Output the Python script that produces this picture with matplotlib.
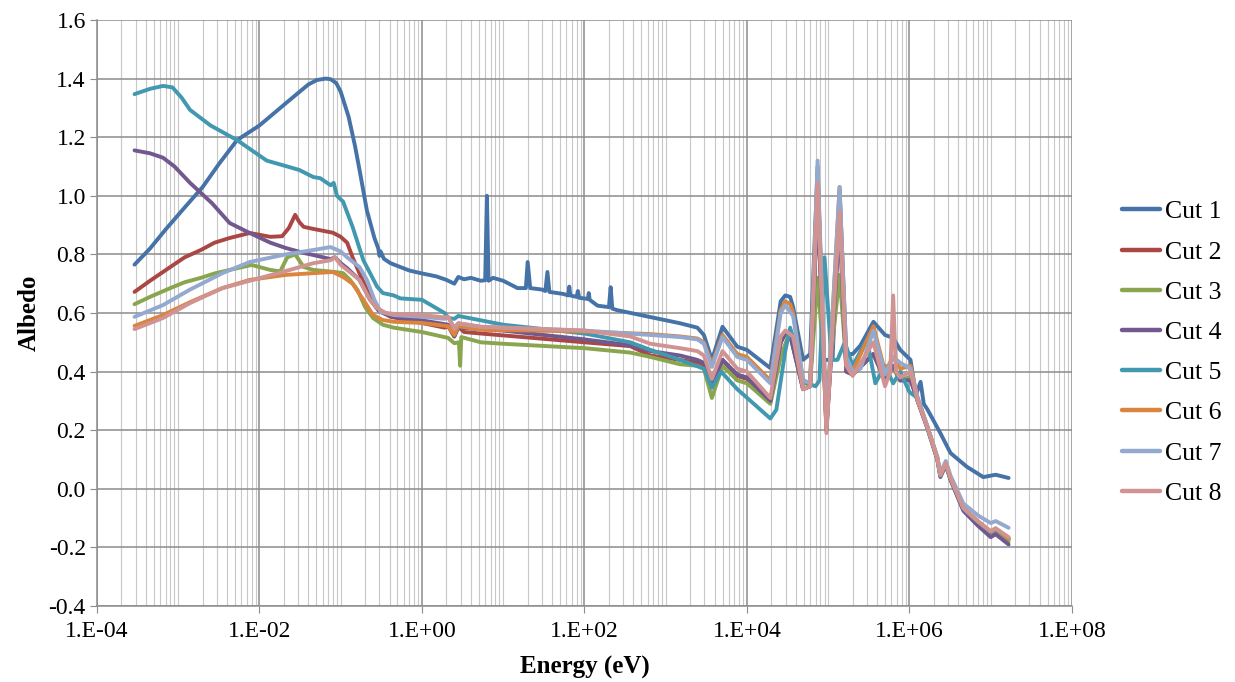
import math

import matplotlib
matplotlib.use('Agg')
import matplotlib.pyplot as plt
from matplotlib.ticker import LogLocator, FixedLocator, FuncFormatter, NullFormatter

plt.rcParams['font.family'] = ['Liberation Serif', 'DejaVu Serif']

# Albedo per cut, sampled against neutron energy (eV)
cut1_energy = [2.9e-4, 4.5e-4, 7e-4, 1.2e-3, 2e-3, 3.2e-3, 5.3e-3, 1e-2, 2.2e-2, 0.04, 0.051,
               0.065, 0.075, 0.088, 0.1, 0.125, 0.15, 0.17, 0.21, 0.26, 0.29, 0.3, 0.31,
               0.34, 0.41, 0.54, 0.7, 1.0, 1.5, 2.0, 2.5, 2.8, 3.3, 4.0, 5.3, 6.0, 6.3, 6.6,
               7.5, 10, 15, 19, 20, 21.5, 30, 33, 35, 37, 55, 63, 65, 67, 80, 83, 86, 110,
               113, 116, 145, 200, 210, 220, 250, 650, 1500, 2450, 2950, 3700, 5000, 7600,
               1e4, 1.94e4, 2.6e4, 2.96e4, 3.4e4, 3.7e4, 4.9e4, 6.0e4, 7.4e4, 8.8e4,
               1.13e5, 1.38e5, 1.67e5, 2.0e5, 2.5e5, 3.6e5, 5.0e5, 6.3e5, 7.7e5, 1.03e6,
               1.2e6, 1.37e6, 1.5e6, 1.67e6, 2.4e6, 3.2e6, 5.1e6, 8.1e6, 1.15e7, 1.66e7]
cut1_albedo = [0.765, 0.82, 0.885, 0.96, 1.03, 1.11, 1.19, 1.24, 1.32, 1.38, 1.395,
               1.40, 1.398, 1.385, 1.355, 1.27, 1.17, 1.09, 0.95, 0.856, 0.82, 0.795, 0.81,
               0.785, 0.77, 0.757, 0.745, 0.735, 0.725, 0.713, 0.70, 0.723, 0.715, 0.72,
               0.71, 0.712, 1.0, 0.71, 0.72, 0.71, 0.685, 0.685, 0.774, 0.685, 0.68, 0.675,
               0.74, 0.672, 0.665, 0.66, 0.69, 0.66, 0.655, 0.675, 0.652, 0.648, 0.668,
               0.645, 0.625, 0.62, 0.688, 0.615, 0.61, 0.586, 0.565, 0.55, 0.525, 0.44,
               0.553, 0.485, 0.474, 0.412, 0.64, 0.66, 0.655, 0.62, 0.44, 0.46, 1.10, 0.44,
               0.44, 1.02, 0.46, 0.46, 0.49, 0.57, 0.525, 0.515, 0.474, 0.44, 0.32, 0.365,
               0.29, 0.27, 0.19, 0.122, 0.075, 0.04, 0.048, 0.037]

cut2_energy = [2.9e-4, 4.5e-4, 8e-4, 1.2e-3, 1.9e-3, 2.8e-3, 4.3e-3, 7.6e-3, 0.0136,
               0.019, 0.023, 0.0275, 0.031, 0.035, 0.046, 0.08, 0.1, 0.12, 0.14, 0.17,
               0.23, 0.29, 0.41, 1.0, 1.9, 2.1, 2.5, 2.8, 3.3, 5.3, 100, 365, 650, 1500,
               2450, 2950, 3700, 5000, 7600, 1e4, 1.94e4, 2.6e4, 2.96e4, 3.4e4, 4.9e4,
               6.0e4, 7.4e4, 9.5e4, 1.38e5, 1.67e5, 2.0e5, 3.6e5, 5.0e5, 6.3e5, 7.7e5,
               1.03e6, 1.26e6, 1.67e6, 2.2e6, 2.4e6, 2.8e6, 3.2e6, 4.6e6, 6.9e6, 1.0e7,
               1.15e7, 1.66e7]
cut2_albedo = [0.672, 0.71, 0.757, 0.79, 0.815, 0.84, 0.856, 0.873, 0.86,
               0.862, 0.89, 0.935, 0.91, 0.894, 0.887, 0.874, 0.86, 0.84, 0.79, 0.736,
               0.655, 0.61, 0.587, 0.566, 0.55, 0.555, 0.52, 0.553, 0.535, 0.53, 0.50,
               0.487, 0.455, 0.44, 0.43, 0.42, 0.355, 0.44, 0.385, 0.375, 0.295, 0.50,
               0.53, 0.525, 0.34, 0.35, 1.0, 0.20, 0.92, 0.40, 0.39, 0.46, 0.37, 0.42,
               0.37, 0.38, 0.30, 0.21, 0.105, 0.045, 0.085, 0.035, -0.07, -0.115, -0.15,
               -0.14, -0.172]

cut3_energy = [2.9e-4, 4.5e-4, 8e-4, 1.2e-3, 1.9e-3, 2.8e-3, 4.3e-3, 8e-3, 0.0136,
               0.018, 0.022, 0.0275, 0.035, 0.046, 0.085, 0.107, 0.13, 0.16, 0.2, 0.25,
               0.33, 0.45, 1.0, 2.1, 2.5, 2.85, 2.95, 3.05, 5.3, 10, 100, 365, 650, 1500,
               2450, 2950, 3700, 5000, 7600, 1e4, 1.94e4, 2.6e4, 3.4e4, 3.7e4, 4.9e4,
               6.0e4, 7.4e4, 9.5e4, 1.38e5, 1.67e5, 2.0e5, 3.6e5, 5.0e5, 6.3e5, 7.7e5,
               1.03e6, 1.26e6, 1.67e6, 2.2e6, 2.4e6, 2.8e6, 3.2e6, 4.6e6, 6.9e6, 1.0e7,
               1.15e7, 1.66e7]
cut3_albedo = [0.63, 0.655, 0.685, 0.705, 0.72, 0.735, 0.747, 0.764, 0.747,
               0.742, 0.79, 0.80, 0.757, 0.747, 0.74, 0.736, 0.713, 0.68, 0.62, 0.583,
               0.56, 0.55, 0.535, 0.515, 0.497, 0.50, 0.42, 0.518, 0.50, 0.495, 0.48,
               0.465, 0.45, 0.425, 0.42, 0.41, 0.31, 0.42, 0.37, 0.36, 0.29, 0.45, 0.54,
               0.52, 0.36, 0.36, 0.72, 0.30, 0.73, 0.42, 0.39, 0.46, 0.38, 0.41, 0.37,
               0.38, 0.30, 0.205, 0.10, 0.045, 0.085, 0.035, -0.07, -0.115, -0.155,
               -0.145, -0.18]

cut4_energy = [2.9e-4, 4.5e-4, 6.5e-4, 9e-4, 1.4e-3, 1.9e-3, 2.6e-3, 4.3e-3, 7.6e-3,
               0.0136, 0.021, 0.035, 0.046, 0.075, 0.085, 0.1, 0.12, 0.17, 0.23, 0.29,
               0.33, 0.45, 1.0, 2.1, 2.5, 2.8, 5.3, 10, 100, 365, 650, 1500, 2450, 2950,
               3700, 5000, 7600, 1e4, 1.94e4, 2.6e4, 2.96e4, 3.4e4, 4.9e4, 6.0e4, 7.4e4,
               9.5e4, 1.38e5, 1.67e5, 2.0e5, 3.6e5, 5.0e5, 6.3e5, 7.7e5, 1.03e6, 1.26e6,
               1.67e6, 2.2e6, 2.4e6, 2.8e6, 3.2e6, 4.6e6, 6.9e6, 1.0e7, 1.15e7, 1.66e7]
cut4_albedo = [1.155, 1.145, 1.13, 1.10, 1.044, 1.01, 0.975, 0.907, 0.873,
               0.84, 0.822, 0.805, 0.798, 0.784, 0.79, 0.77, 0.753, 0.713, 0.645, 0.61,
               0.60, 0.587, 0.575, 0.56, 0.52, 0.55, 0.545, 0.54, 0.51, 0.49, 0.47, 0.455,
               0.44, 0.43, 0.36, 0.44, 0.39, 0.38, 0.30, 0.50, 0.53, 0.525, 0.34, 0.35,
               0.98, 0.20, 0.90, 0.40, 0.39, 0.46, 0.37, 0.42, 0.37, 0.37, 0.30, 0.205,
               0.10, 0.04, 0.08, 0.03, -0.075, -0.125, -0.165, -0.155, -0.19]

cut5_energy = [2.9e-4, 4.5e-4, 6.5e-4, 8.5e-4, 1.1e-3, 1.4e-3, 2.5e-3, 5.3e-3, 0.0123,
               0.022, 0.031, 0.046, 0.056, 0.075, 0.082, 0.09, 0.107, 0.14, 0.19, 0.23,
               0.28, 0.33, 0.45, 0.54, 1.0, 1.9, 2.1, 2.5, 2.8, 10, 100, 365, 650, 1500,
               2950, 3700, 4800, 7600, 1.94e4, 2.3e4, 2.96e4, 3.4e4, 3.8e4, 4.6e4, 5.5e4,
               7.0e4, 7.8e4, 9.0e4, 1.1e5, 1.3e5, 1.6e5, 2.0e5, 3.0e5, 3.8e5, 5.0e5,
               6.3e5, 7.7e5, 1.0e6, 1.26e6, 1.67e6, 2.2e6, 2.4e6, 2.8e6, 3.2e6, 4.6e6,
               6.9e6, 1.0e7, 1.15e7, 1.66e7]
cut5_albedo = [1.347, 1.365, 1.375, 1.37, 1.335, 1.293, 1.24, 1.19, 1.12,
               1.10, 1.088, 1.064, 1.06, 1.036, 1.044, 1.0, 0.98, 0.894, 0.78, 0.736,
               0.69, 0.668, 0.66, 0.65, 0.645, 0.60, 0.583, 0.58, 0.59, 0.56, 0.53, 0.50,
               0.474, 0.44, 0.41, 0.345, 0.40, 0.34, 0.24, 0.27, 0.47, 0.55, 0.50, 0.38,
               0.36, 0.35, 0.37, 0.79, 0.44, 0.44, 0.50, 0.42, 0.51, 0.36, 0.42, 0.36,
               0.40, 0.33, 0.31, 0.21, 0.105, 0.045, 0.085, 0.035, -0.068, -0.112, -0.148,
               -0.138, -0.168]

cut6_energy = [2.9e-4, 6.5e-4, 1.4e-3, 3.5e-3, 7.6e-3, 0.021, 0.046, 0.08, 0.107, 0.14,
               0.19, 0.25, 0.33, 0.45, 1.0, 2.1, 2.5, 2.8, 5.3, 100, 650, 1500, 2450, 2950,
               3700, 5000, 7600, 1e4, 1.94e4, 2.6e4, 2.96e4, 3.4e4, 3.7e4, 4.9e4, 6.0e4,
               7.4e4, 9.5e4, 1.38e5, 1.67e5, 2.0e5, 3.6e5, 5.0e5, 6.3e5, 7.7e5, 1.03e6,
               1.26e6, 1.67e6, 2.2e6, 2.4e6, 2.8e6, 3.2e6, 4.6e6, 6.9e6, 1.0e7, 1.15e7,
               1.66e7]
cut6_albedo = [0.556, 0.593, 0.637, 0.685, 0.713, 0.73, 0.736, 0.74, 0.723, 0.70,
               0.645, 0.593, 0.576, 0.57, 0.566, 0.555, 0.525, 0.555, 0.543, 0.537, 0.528,
               0.52, 0.513, 0.50, 0.425, 0.525, 0.46, 0.45, 0.37, 0.61, 0.64, 0.63, 0.60,
               0.37, 0.36, 1.08, 0.22, 1.03, 0.42, 0.40, 0.555, 0.40, 0.45, 0.41, 0.42,
               0.31, 0.21, 0.105, 0.048, 0.088, 0.038, -0.065, -0.11, -0.145, -0.135,
               -0.17]

cut7_energy = [2.9e-4, 6.5e-4, 1.4e-3, 3.5e-3, 7.6e-3, 0.021, 0.046, 0.075, 0.1, 0.12,
               0.17, 0.21, 0.26, 0.31, 0.45, 1.0, 1.9, 2.1, 2.5, 2.8, 5.3, 100, 650, 1500,
               2450, 2950, 3700, 5000, 7600, 1e4, 1.94e4, 2.6e4, 2.96e4, 3.7e4, 4.9e4,
               6.0e4, 7.4e4, 9.5e4, 1.38e5, 1.67e5, 2.0e5, 2.5e5, 3.6e5, 5.0e5, 6.3e5,
               7.7e5, 1.03e6, 1.26e6, 1.67e6, 2.2e6, 2.4e6, 2.8e6, 3.2e6, 4.6e6, 6.9e6,
               1.0e7, 1.15e7, 1.66e7]
cut7_albedo = [0.587, 0.627, 0.68, 0.736, 0.774, 0.80, 0.815, 0.825, 0.81, 0.79,
               0.757, 0.713, 0.645, 0.604, 0.593, 0.587, 0.58, 0.585, 0.55, 0.565, 0.553,
               0.54, 0.525, 0.518, 0.51, 0.495, 0.416, 0.518, 0.45, 0.44, 0.36, 0.60, 0.627,
               0.59, 0.37, 0.36, 1.12, 0.21, 1.03, 0.45, 0.40, 0.41, 0.54, 0.39, 0.45,
               0.43, 0.41, 0.31, 0.21, 0.11, 0.055, 0.095, 0.045, -0.05, -0.09,
               -0.117, -0.11, -0.133]

cut8_energy = [2.9e-4, 6.5e-4, 1.4e-3, 3.5e-3, 7.6e-3, 0.021, 0.046, 0.075, 0.085, 0.1,
               0.12, 0.17, 0.23, 0.28, 0.36, 0.45, 1.0, 1.9, 2.1, 2.5, 2.8, 5.3, 100, 365,
               650, 1500, 2450, 2950, 3700, 5000, 7600, 1e4, 1.94e4, 2.6e4, 2.96e4, 3.7e4,
               4.9e4, 6.0e4, 7.4e4, 9.5e4, 1.38e5, 1.67e5, 2.0e5, 3.6e5, 5.0e5, 5.8e5,
               6.3e5, 6.8e5, 7.7e5, 1.03e6, 1.26e6, 1.67e6, 2.2e6, 2.4e6, 2.8e6, 3.2e6,
               4.6e6, 6.9e6, 1.0e7, 1.15e7, 1.66e7]
cut8_albedo = [0.545, 0.583, 0.634, 0.685, 0.71, 0.743, 0.77, 0.78, 0.79, 0.764,
               0.747, 0.713, 0.645, 0.617, 0.60, 0.597, 0.593, 0.585, 0.588, 0.545, 0.565,
               0.553, 0.54, 0.52, 0.495, 0.48, 0.47, 0.455, 0.375, 0.47, 0.41, 0.40, 0.31,
               0.52, 0.54, 0.52, 0.34, 0.35, 1.044, 0.19, 0.945, 0.42, 0.385, 0.50, 0.35,
               0.40, 0.66, 0.40, 0.38, 0.40, 0.30, 0.21, 0.105, 0.047, 0.087, 0.037,
               -0.066, -0.11, -0.145, -0.135, -0.165]

series = [
    ("Cut 1", cut1_energy, cut1_albedo, "#4572A7"),
    ("Cut 2", cut2_energy, cut2_albedo, "#AA4643"),
    ("Cut 3", cut3_energy, cut3_albedo, "#89A54E"),
    ("Cut 4", cut4_energy, cut4_albedo, "#71588F"),
    ("Cut 5", cut5_energy, cut5_albedo, "#4198AF"),
    ("Cut 6", cut6_energy, cut6_albedo, "#DB843D"),
    ("Cut 7", cut7_energy, cut7_albedo, "#93A9CF"),
    ("Cut 8", cut8_energy, cut8_albedo, "#D19392"),
]

fig = plt.figure(figsize=(12.35, 6.82), dpi=100)
ax = fig.add_axes([0.0785, 0.1114, 0.7895, 0.8593])

for label, energy, albedo, color in series:
    ax.plot(energy, albedo, color=color, linewidth=2.8, label=label,
            solid_joinstyle='round', solid_capstyle='round')

ax.set_xscale('log')
ax.set_xlim(1e-4, 1e8)
ax.set_ylim(-0.4, 1.6)

# labelled decades every 1e2, light lines at every other power and sub-decade
ax.xaxis.set_major_locator(FixedLocator([10.0 ** p for p in range(-4, 9, 2)]))
ax.xaxis.set_minor_locator(LogLocator(base=10, subs=[1, 2, 3, 4, 5, 6, 7, 8, 9], numticks=40))
ax.xaxis.set_major_formatter(FuncFormatter(lambda v, pos: "1.E%+03d" % round(math.log10(v))))
ax.xaxis.set_minor_formatter(NullFormatter())
ax.set_yticks([-0.4, -0.2, 0.0, 0.2, 0.4, 0.6, 0.8, 1.0, 1.2, 1.4, 1.6])
ax.yaxis.set_major_formatter(FuncFormatter(lambda v, pos: "%.1f" % v))

ax.grid(True, which='major', axis='both', color='#8C8C8C', linewidth=1.1)
ax.grid(True, which='minor', axis='x', color='#C8C8C8', linewidth=0.8)
ax.set_axisbelow(True)

for side in ['top', 'right']:
    ax.spines[side].set_visible(False)
for side in ['left', 'bottom']:
    ax.spines[side].set_color('#8C8C8C')
    ax.spines[side].set_linewidth(1.1)
ax.tick_params(axis='both', which='major', direction='out', length=5, color='#8C8C8C',
               labelsize=17)
ax.tick_params(axis='y', which='major', pad=3)
ax.tick_params(axis='x', which='major', pad=6)
ax.tick_params(axis='x', which='minor', length=0)

ax.set_xlabel("Energy (eV)", fontsize=18, fontweight='bold', labelpad=10)
ax.set_ylabel("Albedo", fontsize=18, fontweight='bold', labelpad=6)

leg = fig.legend(loc='center left', bbox_to_anchor=(0.8895, 0.483), frameon=False,
                 fontsize=18.5, handlelength=1.5, handletextpad=0.2, labelspacing=0.67)
for line in leg.get_lines():
    line.set_linewidth(3.2)

fig.savefig("out.png", dpi=100)
